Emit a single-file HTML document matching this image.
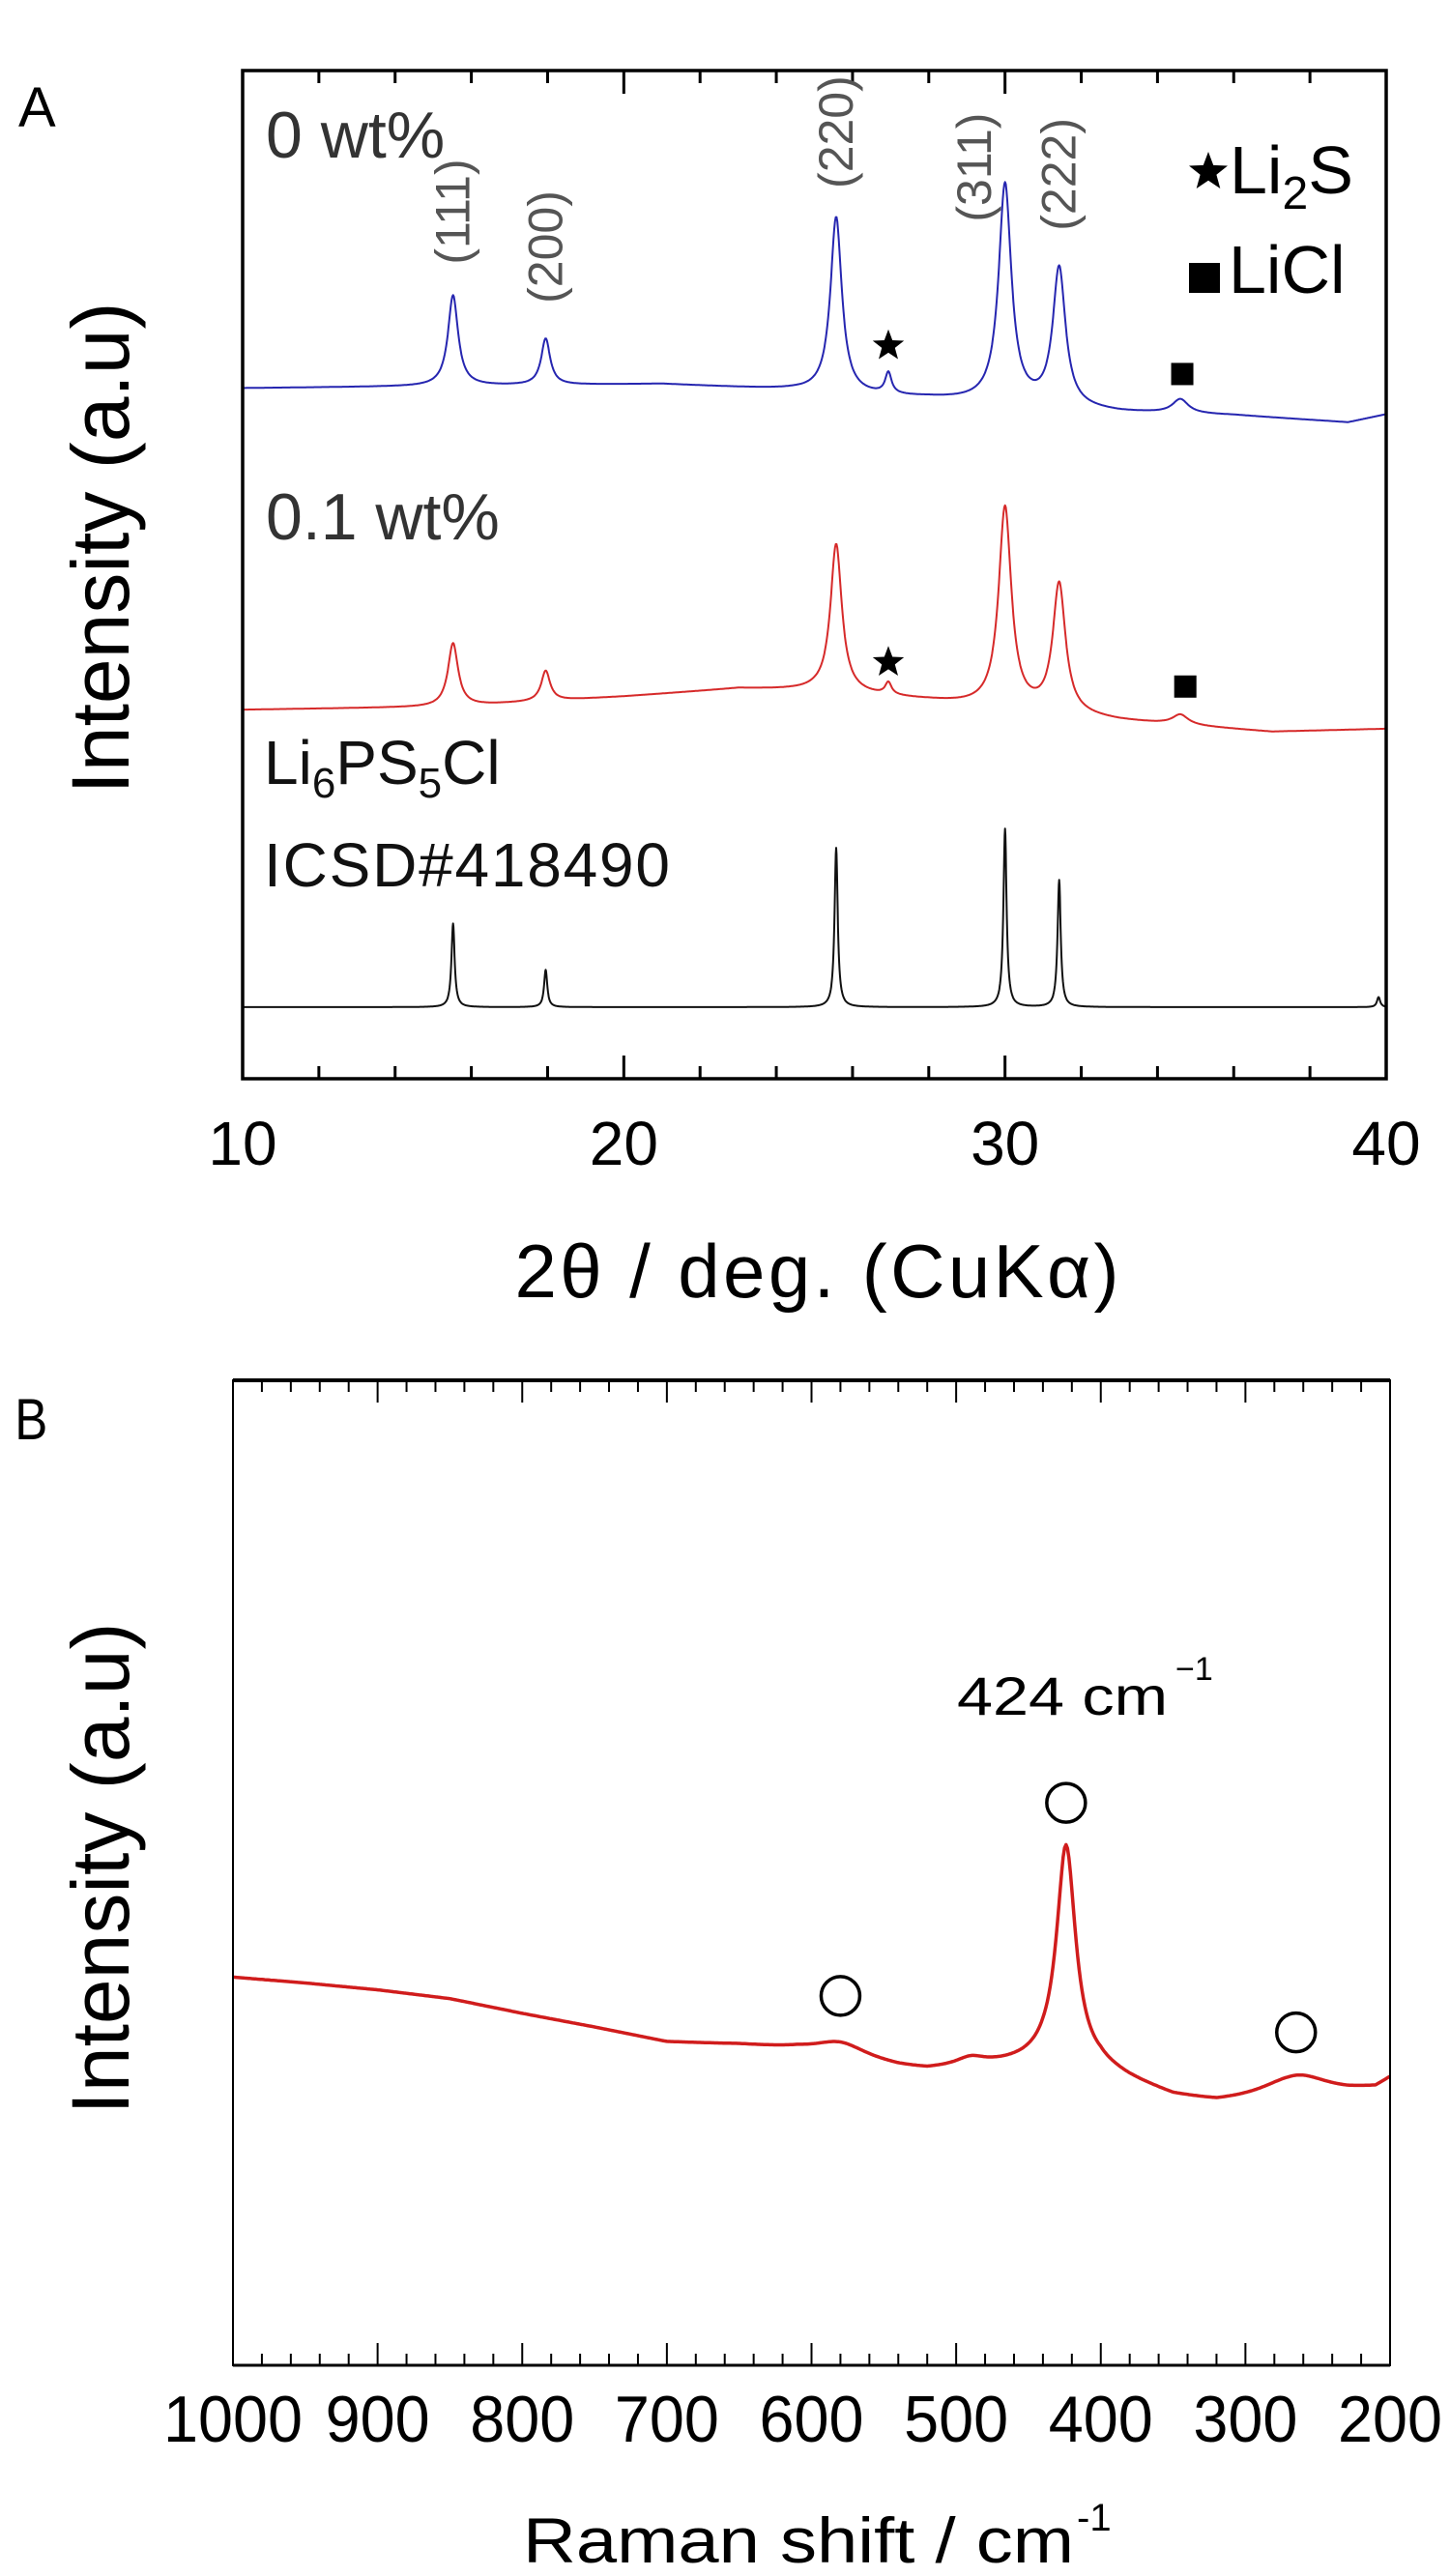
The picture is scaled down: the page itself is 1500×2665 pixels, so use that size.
<!DOCTYPE html>
<html><head><meta charset="utf-8">
<style>
html,body{margin:0;padding:0;background:#fff;}
svg{display:block;}
text{font-family:"Liberation Sans","DejaVu Sans",sans-serif;}
</style></head>
<body>
<svg id="fig" width="1500" height="2665" viewBox="0 0 1500 2665" xmlns="http://www.w3.org/2000/svg">
<g id="panelA"></g>
<g id="panelB"></g>
</svg>
<script>
// ---------- Panel A data (XRD) ----------
const xrdTicks = [10, 20, 30, 40];
const xrdTickLabels = ["10", "20", "30", "40"];
// blue: 0 wt%
const blueBaseX = [10, 21, 24.5, 26, 28, 33, 36, 39, 40];
const blueBaseY = [68.5, 68.9, 68.3, 67.8, 67.5, 66.1, 65.8, 65.1, 65.9];
const bluePeakPos = [15.52, 17.95, 25.57, 26.94, 30.0, 31.42, 34.6];
const bluePeakH = [9.0, 4.6, 17.5, 2.1, 21.7, 13.7, 1.4];
const bluePeakW = [0.16, 0.14, 0.18, 0.1, 0.2, 0.2, 0.25];
// red: 0.1 wt%
const redBaseX = [10, 15.5, 20, 23, 25, 28, 33, 37, 40];
const redBaseY = [36.6, 36.9, 37.9, 38.7, 38.5, 37.5, 35.5, 34.4, 34.7];
const redPeakPos = [15.52, 17.95, 25.57, 26.94, 30.0, 31.42, 34.6];
const redPeakH = [6.3, 3.0, 14.7, 1.2, 19.9, 12.8, 1.0];
const redPeakW = [0.16, 0.14, 0.18, 0.1, 0.2, 0.2, 0.25];
// black: ICSD reference
const refBaseX = [10, 40];
const refBaseY = [7.1, 7.1];
const refPeakPos = [15.52, 17.95, 25.57, 30.0, 31.42, 39.8];
const refPeakH = [8.3, 3.7, 15.8, 17.7, 12.6, 1.0];
const refPeakW = [0.05, 0.05, 0.05, 0.05, 0.05, 0.05];
const hklLabels = ["(111)", "(200)", "(220)", "(311)", "(222)"];
const hklPos = [15.52, 17.95, 25.57, 29.2, 31.42];
const hklY = [86, 82.5, 93.9, 90.4, 89.7];
const li2sMarks = [[26.94, 72.7], [26.94, 41.3]];
const liclMarks = [[34.65, 69.9], [34.73, 38.9]];

// ---------- Panel B data (Raman) ----------
const ramanTicks = [1000, 900, 800, 700, 600, 500, 400, 300, 200];
const ramanTickLabels = ["1000", "900", "800", "700", "600", "500", "400", "300", "200"];
const ramanBaseX = [1000, 950, 900, 850, 800, 750, 700, 650, 610, 540, 520, 470, 440, 400, 380, 350, 320, 270, 230, 210, 200];
const ramanBaseY = [39.4, 38.8, 38.1, 37.2, 35.7, 34.3, 32.8, 32.5, 32.0, 30.2, 29.9, 30.4, 30.7, 30.0, 28.8, 27.2, 26.5, 26.7, 27.4, 27.9, 28.9];
const ramanPeakPos = [424, 580, 490, 265];
const ramanPeakH = [22.3, 1.5, 0.8, 2.6];
const ramanPeakW = [8, 22, 12, 28];
const circlePos = [580, 424, 265];
const circleVal = [37.5, 57.1, 33.8];

const NS = "http://www.w3.org/2000/svg";
function mk(parent, tag, attrs, txt) {
  const e = document.createElementNS(NS, tag);
  for (const k in attrs) e.setAttribute(k, attrs[k]);
  if (txt !== undefined) e.textContent = txt;
  parent.appendChild(e);
  return e;
}
function interp(xs, ys, x) {
  const asc = xs[xs.length - 1] > xs[0];
  for (let i = 0; i < xs.length - 1; i++) {
    const a = xs[i], b = xs[i + 1];
    if ((asc && x >= a && x <= b) || (!asc && x <= a && x >= b)) {
      return ys[i] + (ys[i + 1] - ys[i]) * (x - a) / (b - a);
    }
  }
  return asc ? (x < xs[0] ? ys[0] : ys[ys.length - 1]) : (x > xs[0] ? ys[0] : ys[ys.length - 1]);
}
function model(bx, by, pp, ph, pw, x) {
  let v = interp(bx, by, x);
  for (let i = 0; i < pp.length; i++) { const d = (x - pp[i]) / pw[i]; v += ph[i] / (1 + d * d); }
  return v;
}

// ---------- Panel A ----------
const A = document.getElementById('panelA');
const aL = 251, aR = 1434, aT = 73, aB = 1116;
const ax = v => aL + (v - 10) / 30 * (aR - aL);
const ay = v => aB - v / 100 * (aB - aT);

let t = mk(A, 'text', {x: 19, y: 131, 'font-size': 58}, 'A');
 

function series(g, bx, by, pp, ph, pw, color, w, name, xmin, xmax, step, fx, fy) {
  let d = '';
  for (let x = xmin; x <= xmax + 1e-9; x += step) {
    d += (d ? 'L' : 'M') + fx(x).toFixed(1) + ' ' + fy(model(bx, by, pp, ph, pw, x)).toFixed(1);
  }
  const p = mk(g, 'path', {d: d, fill: 'none', stroke: color, 'stroke-width': w, 'stroke-linejoin': 'round'});
  
  
}
series(A, blueBaseX, blueBaseY, bluePeakPos, bluePeakH, bluePeakW, '#2626b0', 2, 'series-0wt', 10, 40, 0.02, ax, ay);
series(A, redBaseX, redBaseY, redPeakPos, redPeakH, redPeakW, '#d62a2a', 2, 'series-0.1wt', 10, 40, 0.02, ax, ay);
series(A, refBaseX, refBaseY, refPeakPos, refPeakH, refPeakW, '#111', 2, 'series-icsd-reference', 10, 40, 0.01, ax, ay);

// frame & ticks
let fr = mk(A, 'rect', {x: aL, y: aT, width: aR - aL, height: aB - aT, fill: 'none', stroke: '#000', 'stroke-width': 3.5});
 
for (let v = 10; v <= 40; v += 2) {
  const major = v % 10 === 0;
  const L = major ? 24 : 13;
  const x = ax(v);
  let k = mk(A, 'line', {x1: x, x2: x, y1: aB, y2: aB - L, stroke: '#000', 'stroke-width': 3});
   
  k = mk(A, 'line', {x1: x, x2: x, y1: aT, y2: aT + L, stroke: '#000', 'stroke-width': 3});
   
}
xrdTicks.forEach((v, i) => {
  const e = mk(A, 'text', {x: ax(v), y: 1205, 'font-size': 64, 'text-anchor': 'middle'}, xrdTickLabels[i]);
   
});
t = mk(A, 'text', {x: 845, y: 1342, 'font-size': 78, 'text-anchor': 'middle', textLength: 625}, '2θ / deg. (CuKα)');
 
t = mk(A, 'text', {x: 0, y: 0, 'font-size': 84, 'text-anchor': 'middle', transform: 'translate(133,567) rotate(-90)', textLength: 509}, 'Intensity (a.u)');
 

t = mk(A, 'text', {x: 275, y: 163, 'font-size': 68, fill: '#333'}, '0 wt%');
 
t = mk(A, 'text', {x: 275, y: 558, 'font-size': 68, fill: '#333'}, '0.1 wt%');
 
t = mk(A, 'text', {x: 273, y: 811, 'font-size': 64, fill: '#111'});
 
t.innerHTML = 'Li<tspan font-size="44" dy="14">6</tspan><tspan dy="-14">PS</tspan><tspan font-size="44" dy="14">5</tspan><tspan dy="-14">Cl</tspan>';
t = mk(A, 'text', {x: 273, y: 917, 'font-size': 64, fill: '#111', textLength: 420}, 'ICSD#418490');
 

hklLabels.forEach((s, i) => {
  const e = mk(A, 'text', {x: 0, y: 0, 'font-size': 50, fill: '#555', 'text-anchor': 'middle',
    transform: 'translate(' + (ax(hklPos[i]) + 17).toFixed(1) + ',' + ay(hklY[i]).toFixed(1) + ') rotate(-90)'}, s);
   
});
function star(g, cx, cy, r, name) {
  let d = '';
  for (let i = 0; i < 10; i++) {
    const rr = i % 2 ? r * 0.42 : r;
    const an = -Math.PI / 2 + i * Math.PI / 5;
    d += (i ? 'L' : 'M') + (cx + rr * Math.cos(an)).toFixed(1) + ' ' + (cy + rr * Math.sin(an)).toFixed(1);
  }
  const p = mk(g, 'path', {d: d + 'Z', fill: '#000'});
   
}
li2sMarks.forEach(m => star(A, ax(m[0]), ay(m[1]), 17, 'li2s-marker'));
liclMarks.forEach(m => {
  const r = mk(A, 'rect', {x: ax(m[0]) - 11.5, y: ay(m[1]) - 11.5, width: 23, height: 23, fill: '#000'});
   
});
star(A, 1250, 178, 21, 'legend-li2s-marker');
t = mk(A, 'text', {x: 1272, y: 200, 'font-size': 70});
 
t.innerHTML = 'Li<tspan font-size="48" dy="16">2</tspan><tspan dy="-16">S</tspan>';
let sq = mk(A, 'rect', {x: 1230, y: 272, width: 32, height: 31, fill: '#000'});
 
t = mk(A, 'text', {x: 1271, y: 303, 'font-size': 70}, 'LiCl');
 

// ---------- Panel B ----------
const B = document.getElementById('panelB');
const bL = 241, bR = 1438, bT = 1428, bB = 2447;
const bx = v => bL + (1000 - v) / 800 * (bR - bL);
const by = v => bB - v / 100 * (bB - bT);

t = mk(B, 'text', {x: 15, y: 1489, 'font-size': 60, transform: 'scale(0.85,1) translate(3,0)'}, 'B');
 

(function () {
  let d = '';
  for (let x = 1000; x >= 200 - 1e-9; x -= 1) {
    d += (d ? 'L' : 'M') + bx(x).toFixed(1) + ' ' + by(model(ramanBaseX, ramanBaseY, ramanPeakPos, ramanPeakH, ramanPeakW, x)).toFixed(1);
  }
  const p = mk(B, 'path', {d: d, fill: 'none', stroke: '#d01c1c', 'stroke-width': 3.5, 'stroke-linejoin': 'round'});
  
  
})();

fr = mk(B, 'rect', {x: bL, y: bT, width: bR - bL, height: bB - bT, fill: 'none', stroke: '#000', 'stroke-width': 2});
 
let e2 = mk(B, 'line', {x1: bL, x2: bR, y1: bT, y2: bT, stroke: '#000', 'stroke-width': 4});
 
e2 = mk(B, 'line', {x1: bL, x2: bR, y1: bB, y2: bB, stroke: '#000', 'stroke-width': 3});
 
for (let v = 1000; v >= 200; v -= 20) {
  const major = v % 100 === 0;
  const L = major ? 23 : 12;
  const x = bx(v);
  let k = mk(B, 'line', {x1: x, x2: x, y1: bB, y2: bB - L, stroke: '#000', 'stroke-width': 2});
   
  k = mk(B, 'line', {x1: x, x2: x, y1: bT, y2: bT + L, stroke: '#000', 'stroke-width': 2});
   
}
ramanTicks.forEach((v, i) => {
  const e = mk(B, 'text', {x: bx(v), y: 2526, 'font-size': 68, 'text-anchor': 'middle', textLength: ramanTickLabels[i].length * 36, lengthAdjust: 'spacingAndGlyphs'}, ramanTickLabels[i]);
   
});
t = mk(B, 'text', {x: 541, y: 2651, 'font-size': 66, textLength: 570, lengthAdjust: 'spacingAndGlyphs'}, 'Raman shift / cm');
 
t = mk(B, 'text', {x: 1114, y: 2618, 'font-size': 40}, '-1');
 
t = mk(B, 'text', {x: 0, y: 0, 'font-size': 84, 'text-anchor': 'middle', transform: 'translate(133,1933) rotate(-90)', textLength: 509}, 'Intensity (a.u)');
 
t = mk(B, 'text', {x: 990, y: 1774, 'font-size': 56, textLength: 218, lengthAdjust: 'spacingAndGlyphs'}, '424 cm');
 
t = mk(B, 'text', {x: 1216, y: 1738, 'font-size': 34}, '−1');
 
circlePos.forEach((v, i) => {
  const c = mk(B, 'ellipse', {cx: bx(v), cy: by(circleVal[i]), rx: 20, ry: 20, fill: 'none', stroke: '#000', 'stroke-width': 3.5});
   
});
</script>
</body></html>
